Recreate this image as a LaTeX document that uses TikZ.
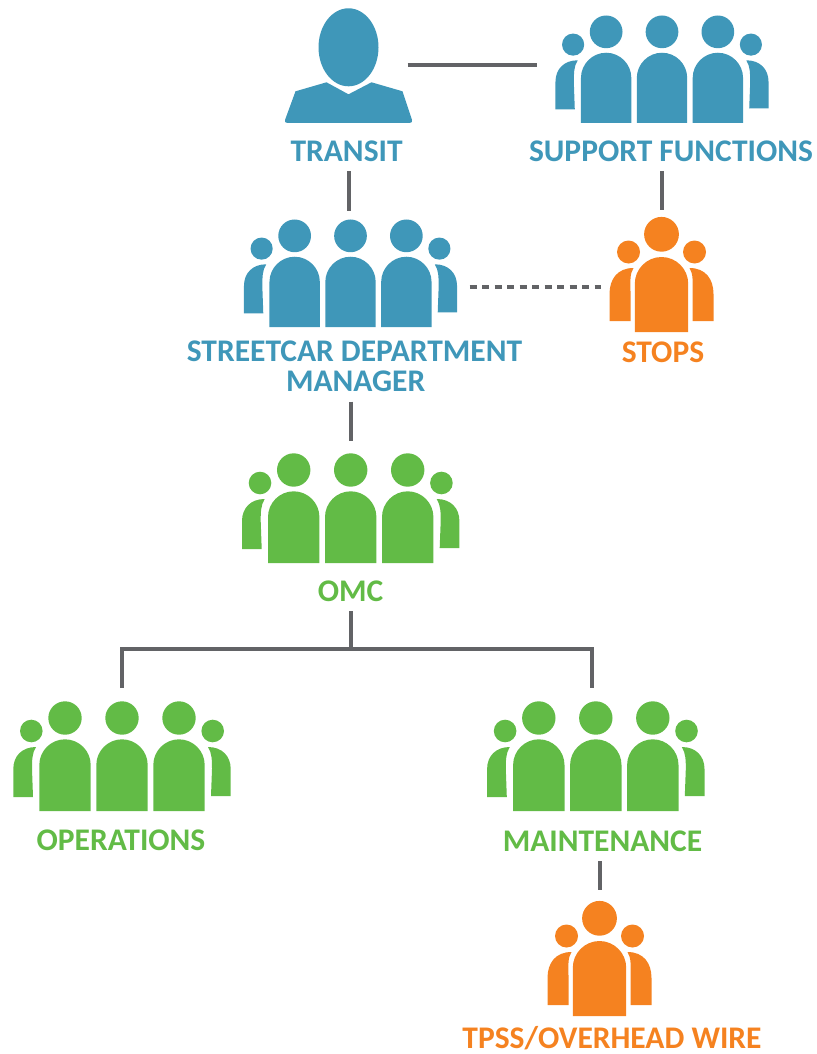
\documentclass[tikz,border=0pt]{standalone}
\usepackage{fontspec}
\setmainfont{Carlito}
\definecolor{transitblue}{HTML}{3F97B9}
\definecolor{omcgreen}{HTML}{62BB46}
\definecolor{stopsorange}{HTML}{F58220}
\definecolor{linegray}{HTML}{626366}
% half-dome figure: centre x, half width, top, bottom
\newcommand{\domebody}[4]{%
  \fill[pic actions] ({#1-#2},#4) -- ({#1-#2},{#3+#2})
    .. controls ({#1-#2},{#3+0.45*#2}) and ({#1-0.55*#2},#3) .. (#1,#3)
    .. controls ({#1+0.55*#2},#3) and ({#1+#2},{#3+0.45*#2}) .. ({#1+#2},{#3+#2})
    -- ({#1+#2},#4) -- cycle;}
\tikzset{
  crowd/.pic={
    \foreach \hx in {-57,0,57} {
      \fill[pic actions] (\hx,-93) circle (16.7);
      \domebody{\hx}{25.7}{-71.7}{0}
    }
    \fill[pic actions] (-90.7,-80) circle (11.3);
    \fill[pic actions] (90.7,-80) circle (11.3);
    \fill[pic actions] (-108.7,-14) -- (-108.7,-42) .. controls (-108.7,-55) and (-100,-64) .. (-86,-64)
      .. controls (-90,-58) and (-90,-50) .. (-90,-42) -- (-89,-14) -- cycle;
    \fill[pic actions] (108.7,-15) -- (108.7,-42) .. controls (108.7,-55) and (100,-64) .. (86,-64)
      .. controls (90,-58) and (90,-50) .. (90,-42) -- (89,-15) -- cycle;
  },
  trio/.pic={
    \fill[pic actions] (0,-97.7) circle (17.4);
    \fill[pic actions] (-33,-80) circle (11.5);
    \fill[pic actions] (33,-80) circle (11.5);
    \domebody{0}{26.7}{-75}{0}
    \fill[pic actions] (-52,-11) -- (-52,-38) .. controls (-52,-53) and (-44,-64) .. (-28,-64)
      .. controls (-32,-58) and (-31,-50) .. (-31,-40) -- (-31,-11) -- cycle;
    \fill[pic actions] (52,-11) -- (52,-38) .. controls (52,-53) and (44,-64) .. (28,-64)
      .. controls (32,-58) and (31,-50) .. (31,-40) -- (31,-11) -- cycle;
  },
  person/.pic={
    \fill[pic actions] (0,-75.7) ellipse [x radius=30, y radius=39];
    \fill[pic actions] (-22,-40.7) -- (0,-28.7) -- (23,-40.7) -- (54,-31.7) -- (63.5,-3)
      .. controls (64,-1) and (63,0) .. (61,0) -- (-61,0) .. controls (-63,0) and (-64,-1) .. (-63.5,-3)
      -- (-53,-31.7) -- cycle;
  },
  crowdbox/.style={minimum width=214pt, minimum height=108pt, inner sep=0pt, outer sep=0pt, anchor=south},
  triobox/.style={minimum width=104pt, minimum height=115pt, inner sep=0pt, outer sep=0pt, anchor=south},
  personbox/.style={minimum width=118pt, minimum height=115pt, inner sep=0pt, outer sep=0pt, anchor=south},
  tag/.style={font=\fontsize{31.5}{34}\selectfont\bfseries, inner sep=0pt, outer sep=0pt, anchor=base,
    text height=20pt, text depth=10pt, align=center},
  link/.style={draw=linegray, line width=4pt},
  looselink/.style={link, dash pattern=on 7pt off 5.5pt},
}
\begin{document}
\begin{tikzpicture}[x=1pt, y=-1pt]
\useasboundingbox (0,0) rectangle (816,1054);

% Icon boxes, with the figures set on their bottom edge
\node[personbox] (transiticon) at (348.5,123) {};
\node[crowdbox] (supporticon) at (662,123) {};
\node[crowdbox] (managericon) at (350.5,327) {};
\node[triobox] (stopsicon) at (661.5,332) {};
\node[crowdbox] (omcicon) at (350.7,563) {};
\node[crowdbox] (operationsicon) at (122,811) {};
\node[crowdbox] (maintenanceicon) at (595.8,811) {};
\node[triobox] (tpssicon) at (599.5,1016) {};

\pic[fill=transitblue] at (transiticon.south) {person};
\pic[fill=transitblue, scale=0.98] at (supporticon.south) {crowd};
\pic[fill=transitblue, scale=0.98] at (managericon.south) {crowd};
\pic[fill=stopsorange] at (stopsicon.south) {trio};
\pic[fill=omcgreen] at (omcicon.south) {crowd};
\pic[fill=omcgreen] at (operationsicon.south) {crowd};
\pic[fill=omcgreen] at (maintenanceicon.south) {crowd};
\pic[fill=stopsorange] at (tpssicon.south) {trio};

% Labels
\node[tag, text=transitblue] (transit) at (346.6,161) {TRANSIT};
\node[tag, text=transitblue] (support) at (671,161) {SUPPORT FUNCTIONS};
\node[tag, text=transitblue] (managerfirst) at (354.5,361.5) {STREETCAR DEPARTMENT};
\node[tag, text=transitblue] (manager) at (355.7,391.5) {MANAGER};
\node[tag, text=stopsorange] (stops) at (663,362.5) {STOPS};
\node[tag, text=omcgreen] (omc) at (350.5,601) {OMC};
\node[tag, text=omcgreen] (operations) at (121,850) {OPERATIONS};
\node[tag, text=omcgreen] (maintenance) at (602.5,851) {MAINTENANCE};
\node[tag, text=stopsorange, text depth=2pt] (tpss) at (612,1048) {TPSS/OVERHEAD WIRE};

% Connectors
\coordinate (split) at (350.7,649);
\coordinate (opsdrop) at (122,688);
\coordinate (maintdrop) at (592.3,688);
\draw[link, shorten >=18pt] (transiticon.east) -- (transiticon.east -| supporticon.west);
\draw[link, shorten >=8pt] (transit.south -| transiticon) -- (managericon.north -| transiticon);
\draw[link, shorten >=7pt] (support.south -| stopsicon) -- (stopsicon.north);
\draw[looselink, shorten <=12pt, shorten >=9pt] (managericon.east |- 0,287) -- (stopsicon.west |- 0,287);
\draw[link, shorten >=14pt] (manager.south -| omcicon) -- (omcicon.north);
\draw[link] (omc.south -| split) -- (split);
\draw[link] (opsdrop) |- (split) -| (maintdrop);
\draw[link, shorten >=11pt] (maintenance.south -| tpssicon) -- (tpssicon.north);
\end{tikzpicture}
\end{document}
